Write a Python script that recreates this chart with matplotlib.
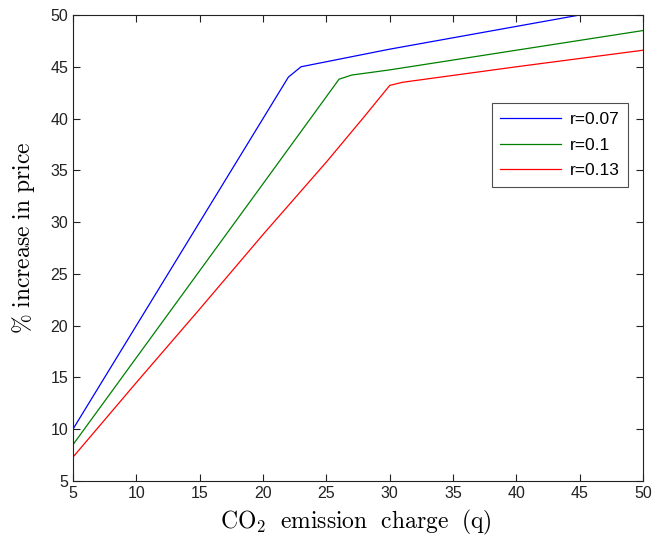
import matplotlib
matplotlib.use("Agg")
import matplotlib.pyplot as plt

q_blue = [5, 10, 15, 20, 22, 23, 30, 40, 45, 50]
p_blue = [10.0, 20.0, 30.0, 40.0, 44.0, 45.0, 46.7, 48.9, 50.0, 51.1]

q_green = [5, 10, 15, 20, 26, 27, 30, 40, 50]
p_green = [8.5, 16.9, 25.3, 33.7, 43.8, 44.2, 44.7, 46.6, 48.5]

q_red = [5, 10, 15, 20, 25, 28, 30, 31, 40, 50]
p_red = [7.3, 14.5, 21.6, 28.8, 35.8, 40.2, 43.2, 43.5, 45.0, 46.6]

labels = ["r=0.07", "r=0.1", "r=0.13"]

plt.rcParams['mathtext.fontset'] = 'cm'
plt.rcParams['font.family'] = ['Liberation Sans', 'DejaVu Sans']

fig = plt.figure(figsize=(6.57, 5.39), dpi=100)
ax = fig.add_axes([0.111, 0.1076, 0.868, 0.8646])

ax.plot(q_blue, p_blue, color='#0000ff', lw=0.9, label=labels[0])
ax.plot(q_green, p_green, color='#008000', lw=0.9, label=labels[1])
ax.plot(q_red, p_red, color='#ff0000', lw=0.9, label=labels[2])

ax.set_xlim(5, 50)
ax.set_ylim(5, 50)
ax.set_xticks(range(5, 51, 5))
ax.set_yticks(range(5, 51, 5))
ax.tick_params(direction='in', top=True, right=True, length=5, labelsize=11.5, colors='#222222')
for s in ax.spines.values():
    s.set_color('#222222')
    s.set_linewidth(0.8)

ax.set_xlabel(r'$\mathrm{CO_2\ \ emission\ \ charge\ \ (q)}$', fontsize=17)
ax.set_ylabel(r'$\mathrm{\%\ increase\ in\ price}$', fontsize=17)
ax.xaxis.set_label_coords(0.497, -0.057)
ax.yaxis.set_label_coords(-0.063, 0.522)

leg = ax.legend(loc='upper right', bbox_to_anchor=(0.974, 0.8105), fontsize=12.5,
                frameon=True, fancybox=False, edgecolor='#222222', handlelength=3.5,
                borderpad=0.5, labelspacing=0.6, handletextpad=0.5, borderaxespad=0)
leg.get_frame().set_linewidth(0.8)

fig.savefig('out.png', dpi=100)
